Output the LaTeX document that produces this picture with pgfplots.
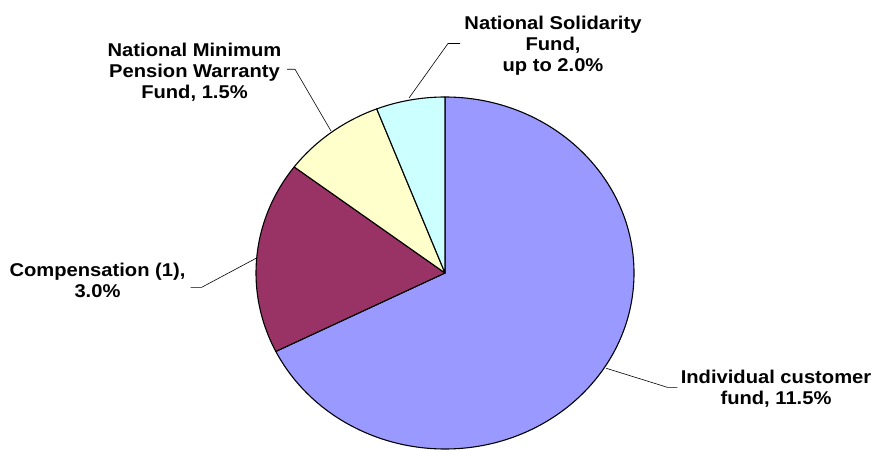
\documentclass[border=0pt]{standalone}
\usepackage{pgfplots}
\usepackage{pgfplotstable}
\usepackage{fontspec}
\pgfplotsset{compat=1.18}
\newfontfamily\lab{Liberation Sans}[FakeStretch=1.09]
\definecolor{pieblue}{HTML}{9999FF}
\definecolor{piemaroon}{HTML}{993366}
\definecolor{pieyellow}{HTML}{FFFFCC}
\definecolor{piecyan}{HTML}{CCFFFF}

% slices clockwise from 12 o'clock
\pgfplotstableread{
name value
Individual 11.5
Compensation 3.0
Minimum 1.5
Solidarity 1.0
}\piedata

\pgfplotstablegetelem{0}{value}\of\piedata\let\va\pgfplotsretval
\pgfplotstablegetelem{1}{value}\of\piedata\let\vb\pgfplotsretval
\pgfplotstablegetelem{2}{value}\of\piedata\let\vc\pgfplotsretval
\pgfplotstablegetelem{3}{value}\of\piedata\let\vd\pgfplotsretval
\pgfmathsetmacro\k{360/(\va+\vb+\vc+\vd)}
\pgfmathsetmacro\aA{90}
\pgfmathsetmacro\aB{90-\va*\k}
\pgfmathsetmacro\aC{\aB-\vb*\k}
\pgfmathsetmacro\aD{\aC-\vc*\k}
\pgfmathsetmacro\aE{\aD-\vd*\k}

\tikzset{
  slice/.style={draw=black, line width=1.1pt, line join=round},
  leader/.style={draw=black, line width=0.6pt},
  lbl/.style={align=center, inner sep=0pt,
    font={\lab\bfseries\fontsize{18.5bp}{21bp}\selectfont}},
}
\newcommand\pieslice[3]{%
  \fill[#3, slice] (axis cs:445,176) -- ++(#1:189bp and 176bp)
    arc[start angle=#1, end angle=#2, x radius=189bp, y radius=176bp] -- cycle;}

\begin{document}
\begin{tikzpicture}
\begin{axis}[scale only axis, width=876bp, height=449bp,
  xmin=0, xmax=876, ymin=0, ymax=449, hide axis, clip=false]
  \path (rel axis cs:0,0) rectangle (rel axis cs:1,1);
  \pieslice{\aA}{\aB}{pieblue}
  \pieslice{\aB}{\aC}{piemaroon}
  \pieslice{\aC}{\aD}{pieyellow}
  \pieslice{\aD}{\aE}{piecyan}
  % leader lines
  \draw[leader] (axis cs:409,351) -- (axis cs:448,405.5) -- (axis cs:460,405.5);
  \draw[leader] (axis cs:287,379.7) -- (axis cs:295,379.7) -- (axis cs:331,318);
  \draw[leader] (axis cs:190.7,161.7) -- (axis cs:201.7,161.7) -- (axis cs:256,190.7);
  \draw[leader] (axis cs:606.3,80.7) -- (axis cs:667.3,61.7) -- (axis cs:677.3,61.7);
  % labels
  \node[lbl] at (axis cs:553,403) {National Solidarity\\Fund,\\up to 2.0\%};
  \node[lbl] at (axis cs:194.5,377) {National Minimum\\Pension Warranty\\Fund, 1.5\%};
  \node[lbl] at (axis cs:97.5,168.5) {Compensation (1),\\3.0\%};
  \node[lbl] at (axis cs:776,60.5) {Individual customer\\fund, 11.5\%};
\end{axis}
\end{tikzpicture}
\end{document}
